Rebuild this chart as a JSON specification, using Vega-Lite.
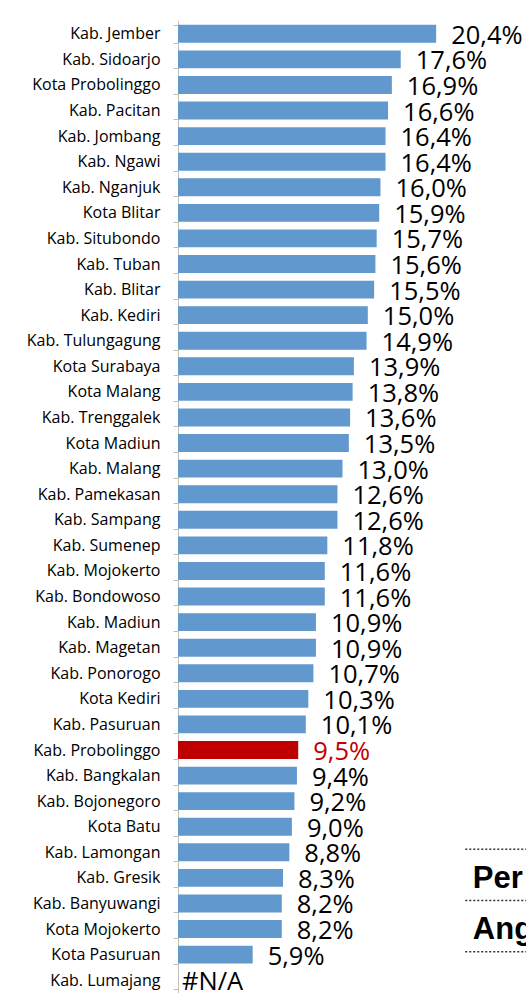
{
  "$schema": "https://vega.github.io/schema/vega-lite/v6.json",
  "autosize": "none",
  "width": 348,
  "height": 972,
  "padding": {"left": 178, "top": 21, "right": 0, "bottom": 0},
  "background": "white",
  "data": {
    "values": [
      {"wilayah": "Kab. Jember", "nilai": 20.4, "label": "20,4%", "fokus": "lain"},
      {"wilayah": "Kab. Sidoarjo", "nilai": 17.6, "label": "17,6%", "fokus": "lain"},
      {"wilayah": "Kota Probolinggo", "nilai": 16.9, "label": "16,9%", "fokus": "lain"},
      {"wilayah": "Kab. Pacitan", "nilai": 16.6, "label": "16,6%", "fokus": "lain"},
      {"wilayah": "Kab. Jombang", "nilai": 16.4, "label": "16,4%", "fokus": "lain"},
      {"wilayah": "Kab. Ngawi", "nilai": 16.4, "label": "16,4%", "fokus": "lain"},
      {"wilayah": "Kab. Nganjuk", "nilai": 16.0, "label": "16,0%", "fokus": "lain"},
      {"wilayah": "Kota Blitar", "nilai": 15.9, "label": "15,9%", "fokus": "lain"},
      {"wilayah": "Kab. Situbondo", "nilai": 15.7, "label": "15,7%", "fokus": "lain"},
      {"wilayah": "Kab. Tuban", "nilai": 15.6, "label": "15,6%", "fokus": "lain"},
      {"wilayah": "Kab. Blitar", "nilai": 15.5, "label": "15,5%", "fokus": "lain"},
      {"wilayah": "Kab. Kediri", "nilai": 15.0, "label": "15,0%", "fokus": "lain"},
      {"wilayah": "Kab. Tulungagung", "nilai": 14.9, "label": "14,9%", "fokus": "lain"},
      {"wilayah": "Kota Surabaya", "nilai": 13.9, "label": "13,9%", "fokus": "lain"},
      {"wilayah": "Kota Malang", "nilai": 13.8, "label": "13,8%", "fokus": "lain"},
      {"wilayah": "Kab. Trenggalek", "nilai": 13.6, "label": "13,6%", "fokus": "lain"},
      {"wilayah": "Kota Madiun", "nilai": 13.5, "label": "13,5%", "fokus": "lain"},
      {"wilayah": "Kab. Malang", "nilai": 13.0, "label": "13,0%", "fokus": "lain"},
      {"wilayah": "Kab. Pamekasan", "nilai": 12.6, "label": "12,6%", "fokus": "lain"},
      {"wilayah": "Kab. Sampang", "nilai": 12.6, "label": "12,6%", "fokus": "lain"},
      {"wilayah": "Kab. Sumenep", "nilai": 11.8, "label": "11,8%", "fokus": "lain"},
      {"wilayah": "Kab. Mojokerto", "nilai": 11.6, "label": "11,6%", "fokus": "lain"},
      {"wilayah": "Kab. Bondowoso", "nilai": 11.6, "label": "11,6%", "fokus": "lain"},
      {"wilayah": "Kab. Madiun", "nilai": 10.9, "label": "10,9%", "fokus": "lain"},
      {"wilayah": "Kab. Magetan", "nilai": 10.9, "label": "10,9%", "fokus": "lain"},
      {"wilayah": "Kab. Ponorogo", "nilai": 10.7, "label": "10,7%", "fokus": "lain"},
      {"wilayah": "Kota Kediri", "nilai": 10.3, "label": "10,3%", "fokus": "lain"},
      {"wilayah": "Kab. Pasuruan", "nilai": 10.1, "label": "10,1%", "fokus": "lain"},
      {"wilayah": "Kab. Probolinggo", "nilai": 9.5, "label": "9,5%", "fokus": "sorot"},
      {"wilayah": "Kab. Bangkalan", "nilai": 9.4, "label": "9,4%", "fokus": "lain"},
      {"wilayah": "Kab. Bojonegoro", "nilai": 9.2, "label": "9,2%", "fokus": "lain"},
      {"wilayah": "Kota Batu", "nilai": 9.0, "label": "9,0%", "fokus": "lain"},
      {"wilayah": "Kab. Lamongan", "nilai": 8.8, "label": "8,8%", "fokus": "lain"},
      {"wilayah": "Kab. Gresik", "nilai": 8.3, "label": "8,3%", "fokus": "lain"},
      {"wilayah": "Kab. Banyuwangi", "nilai": 8.2, "label": "8,2%", "fokus": "lain"},
      {"wilayah": "Kota Mojokerto", "nilai": 8.2, "label": "8,2%", "fokus": "lain"},
      {"wilayah": "Kota Pasuruan", "nilai": 5.9, "label": "5,9%", "fokus": "lain"},
      {"wilayah": "Kab. Lumajang", "nilai": null, "label": "#N/A", "fokus": "lain"}
    ]
  },
  "encoding": {
    "y": {
      "field": "wilayah",
      "type": "nominal",
      "sort": null,
      "title": null,
      "scale": {"paddingInner": 0.3, "paddingOuter": 0.15},
      "axis": {
        "domainColor": "#BFBFBF",
        "tickColor": "#BFBFBF",
        "tickBand": "extent",
        "tickSize": 5,
        "labelPadding": 13,
        "labelFont": "Open Sans",
        "labelFontSize": 16,
        "labelColor": "#000000"
      }
    }
  },
  "layer": [
    {
      "mark": {"type": "bar"},
      "encoding": {
        "x": {
          "field": "nilai",
          "type": "quantitative",
          "scale": {"domain": [0, 27.5], "nice": false, "zero": true},
          "axis": null
        },
        "color": {
          "condition": {"test": "datum.fokus === 'sorot'", "value": "#C00000"},
          "value": "#6199CF"
        }
      }
    },
    {
      "transform": [{"filter": "datum.nilai != null"}],
      "mark": {"type": "text", "align": "left", "baseline": "middle", "dx": 15, "dy": 2, "font": "Open Sans", "fontSize": 25.5},
      "encoding": {
        "x": {"field": "nilai", "type": "quantitative"},
        "text": {"field": "label"},
        "color": {
          "condition": {"test": "datum.fokus === 'sorot'", "value": "#C00000"},
          "value": "#000000"
        }
      }
    },
    {
      "transform": [{"filter": "datum.nilai == null"}],
      "mark": {"type": "text", "align": "left", "baseline": "middle", "dx": 4, "dy": 2, "font": "Open Sans", "fontSize": 25.5, "color": "#000000"},
      "encoding": {
        "x": {"datum": 0, "type": "quantitative"},
        "text": {"field": "label"}
      }
    },
    {
      "data": {"values": [{"teks": "Per", "baris": "Kab. Gresik"}, {"teks": "Ang", "baris": "Kota Mojokerto"}]},
      "mark": {"type": "text", "align": "left", "baseline": "middle", "dy": 1, "font": "Liberation Sans", "fontWeight": "bold", "fontSize": 31, "color": "#000000"},
      "encoding": {
        "x": {"datum": 23.3, "type": "quantitative"},
        "y": {"field": "baris", "type": "nominal", "sort": null},
        "text": {"field": "teks"}
      }
    },
    {
      "data": {"values": [{"baris": "Kab. Lamongan"}, {"baris": "Kab. Banyuwangi"}, {"baris": "Kota Pasuruan"}]},
      "mark": {"type": "rule", "color": "#333333", "strokeDash": [2, 2], "strokeWidth": 1.5, "yOffset": -3},
      "encoding": {
        "x": {"datum": 22.7, "type": "quantitative"},
        "x2": {"datum": 28.5},
        "y": {"field": "baris", "type": "nominal", "sort": null}
      }
    }
  ],
  "config": {"view": {"stroke": null}}
}
